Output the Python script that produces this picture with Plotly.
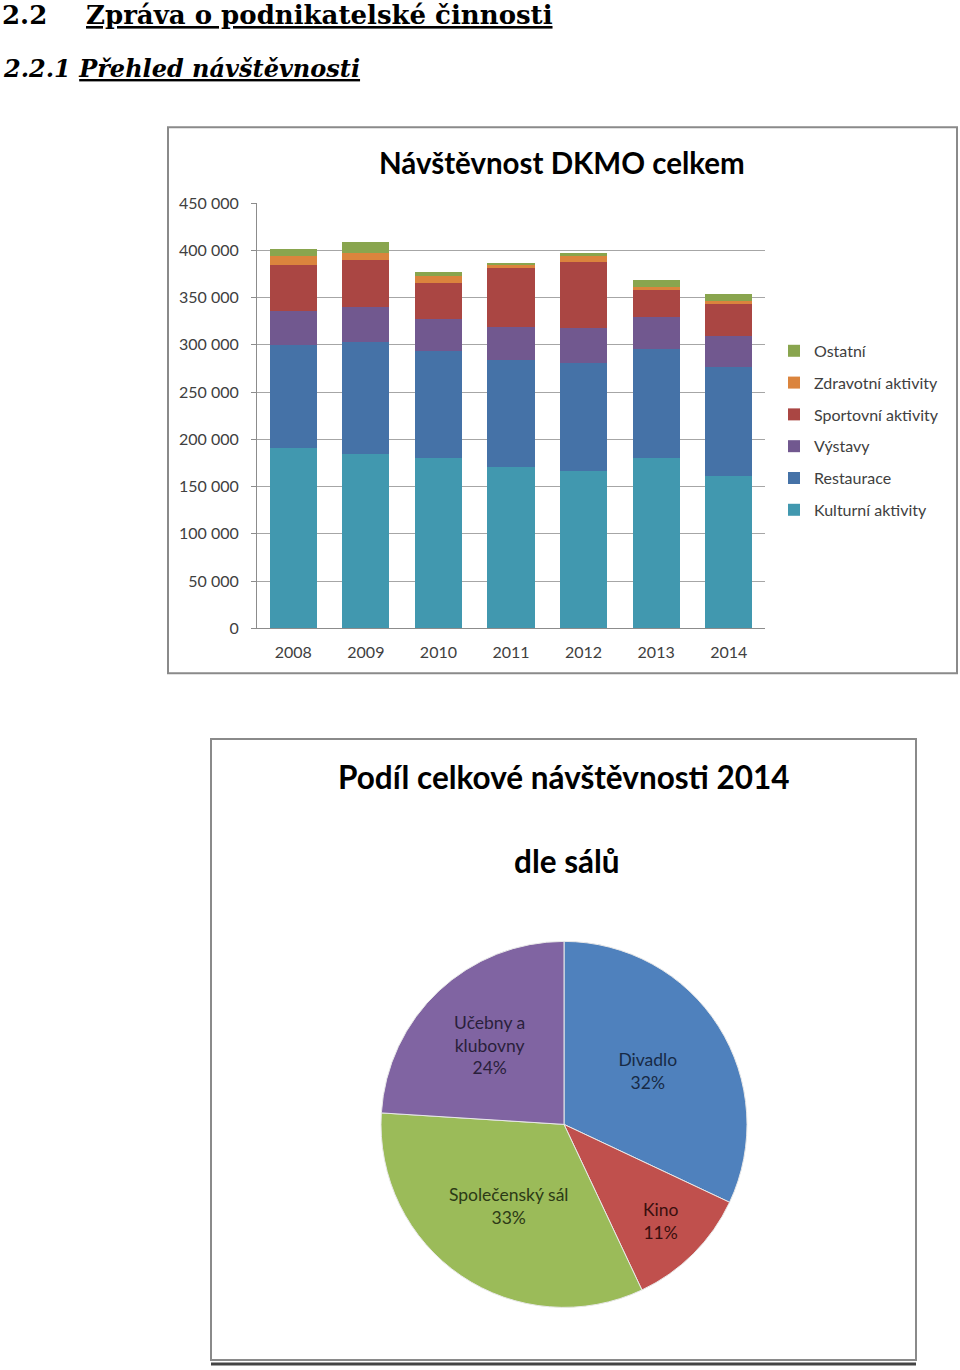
import plotly.graph_objects as go

W, H = 960, 1370

# ---------------- data ----------------
years = ["2008", "2009", "2010", "2011", "2012", "2013", "2014"]
kulturni = [191000, 185000, 180000, 170400, 166600, 180600, 161600]
restaurace = [109000, 118500, 113000, 113800, 114700, 115500, 115500]
vystavy = [36000, 36300, 34000, 34500, 36300, 33100, 32400]
sportovni = [48500, 50000, 38700, 62300, 70400, 28900, 33800]
zdravotni = [10000, 7000, 7000, 3200, 6000, 2900, 3200]
ostatni = [7000, 11600, 4300, 2400, 2900, 7300, 7700]

series_names = ["Kulturní aktivity", "Restaurace", "Výstavy",
                "Sportovní aktivity", "Zdravotní aktivity", "Ostatní"]
series_values = [kulturni, restaurace, vystavy, sportovni, zdravotni, ostatni]
series_colors = ["#4198AF", "#4572A7", "#71588F", "#AA4643", "#DB843D", "#89A54E"]

y_ticks = [0, 50000, 100000, 150000, 200000, 250000, 300000, 350000, 400000, 450000]

pie_labels = ["Divadlo", "Kino", "Společenský sál", "Učebny a klubovny"]
pie_text = ["Divadlo", "Kino", "Společenský sál", "Učebny a<br>klubovny"]
pie_values = [32, 11, 33, 24]
pie_colors = ["#4F81BD", "#C0504D", "#9BBB59", "#8064A2"]
pie_text_colors = ["#172A45", "#3A0F0E", "#2C3A16", "#2A1F3B"]

FONT = "Lato, 'Open Sans', sans-serif"

# screen mapping correction (observed rendering offset/scale)
SCALE_Y, OFF_Y = 0.988, 9.5


def px(x):
    return x / W


def py(y):
    return 1 - (y - OFF_Y) / (SCALE_Y * H)


fig = go.Figure()

n = len(series_names)
for i, (name, vals, col) in enumerate(zip(series_names, series_values, series_colors)):
    fig.add_trace(go.Bar(
        x=years, y=vals, name=name, marker=dict(color=col, line=dict(width=0)),
        legendgroup=name, legendrank=n - i, xaxis="x", yaxis="y",
    ))

fig.add_trace(go.Pie(
    labels=pie_labels, values=pie_values, text=pie_text,
    texttemplate="%{text}<br>%{percent:.0%}",
    textposition="inside", insidetextorientation="horizontal",
    sort=False, direction="clockwise", rotation=0,
    marker=dict(colors=pie_colors, line=dict(color="#E8E8E8", width=1)),
    insidetextfont=dict(family=FONT, size=17.5, color=pie_text_colors),
    showlegend=False,
    domain=dict(x=[px(381), px(747)], y=[py(1313), py(939)]),
    hoverinfo="label+percent",
))

fig.update_layout(
    width=W, height=H,
    margin=dict(l=0, r=0, t=0, b=0),
    paper_bgcolor="white", plot_bgcolor="white",
    barmode="stack", bargap=0.35,
    separators=", ",
    font=dict(family=FONT, color="#262626"),
    xaxis=dict(
        domain=[px(257), px(765)], anchor="y",
        showline=True, linecolor="#8C8C8C", linewidth=1,
        tickfont=dict(size=16, color="#404040"), ticks="",
        ticklabelstandoff=9,
        showgrid=False,
    ),
    yaxis=dict(
        domain=[py(629), py(203)], anchor="x",
        range=[0, 450000], tickvals=y_ticks, tickformat=",.0f",
        showline=True, linecolor="#8C8C8C", linewidth=1,
        gridcolor="#A6A6A6", gridwidth=1,
        ticks="outside", ticklen=5, tickcolor="#8C8C8C",
        ticklabelstandoff=9,
        tickfont=dict(size=16, color="#404040"),
        zeroline=False,
    ),
    legend=dict(
        x=px(774), y=py(334), xanchor="left", yanchor="top",
        traceorder="grouped", tracegroupgap=8,
        font=dict(size=16, color="#404040", family=FONT),
        bgcolor="rgba(0,0,0,0)",
        itemwidth=30,
    ),
    shapes=[
        dict(type="rect", xref="paper", yref="paper",
             x0=px(168), x1=px(957), y0=py(674), y1=py(127),
             line=dict(color="#8A8A8A", width=2), fillcolor="rgba(0,0,0,0)", layer="below"),
        dict(type="rect", xref="paper", yref="paper",
             x0=px(211), x1=px(916), y0=py(1362), y1=py(740),
             line=dict(color="#8A8A8A", width=2), fillcolor="rgba(0,0,0,0)", layer="below"),
        dict(type="line", xref="paper", yref="paper",
             x0=px(211), x1=px(916), y0=py(1366), y1=py(1366),
             line=dict(color="#444444", width=3)),
    ],
    annotations=[
        dict(text="<b>2.2</b>", x=px(0), y=py(15), xref="paper", yref="paper",
             xanchor="left", yanchor="middle", showarrow=False,
             font=dict(family="'DejaVu Serif', serif", size=26, color="black")),
        dict(text="<b><u>Zpráva o podnikatelské činnosti</u></b>", x=px(84), y=py(15),
             xref="paper", yref="paper", xanchor="left", yanchor="middle", showarrow=False,
             font=dict(family="'DejaVu Serif', serif", size=26, color="black")),
        dict(text="<b><i>2.2.1 <u>Přehled návštěvnosti</u></i></b>", x=px(1), y=py(68),
             xref="paper", yref="paper", xanchor="left", yanchor="middle", showarrow=False,
             font=dict(family="'DejaVu Serif', serif", size=24, color="black")),
        dict(text="<b>Návštěvnost DKMO celkem</b>", x=px(562), y=py(162),
             xref="paper", yref="paper", xanchor="center", yanchor="middle", showarrow=False,
             font=dict(family=FONT, size=29.5, color="black")),
        dict(text="<b>Podíl celkové návštěvnosti 2014</b>", x=px(564), y=py(778),
             xref="paper", yref="paper", xanchor="center", yanchor="middle", showarrow=False,
             font=dict(family=FONT, size=31.5, color="black")),
        dict(text="<b>dle sálů</b>", x=px(567), y=py(862),
             xref="paper", yref="paper", xanchor="center", yanchor="middle", showarrow=False,
             font=dict(family=FONT, size=31.5, color="black")),
    ],
)

fig.write_html("out.html")
